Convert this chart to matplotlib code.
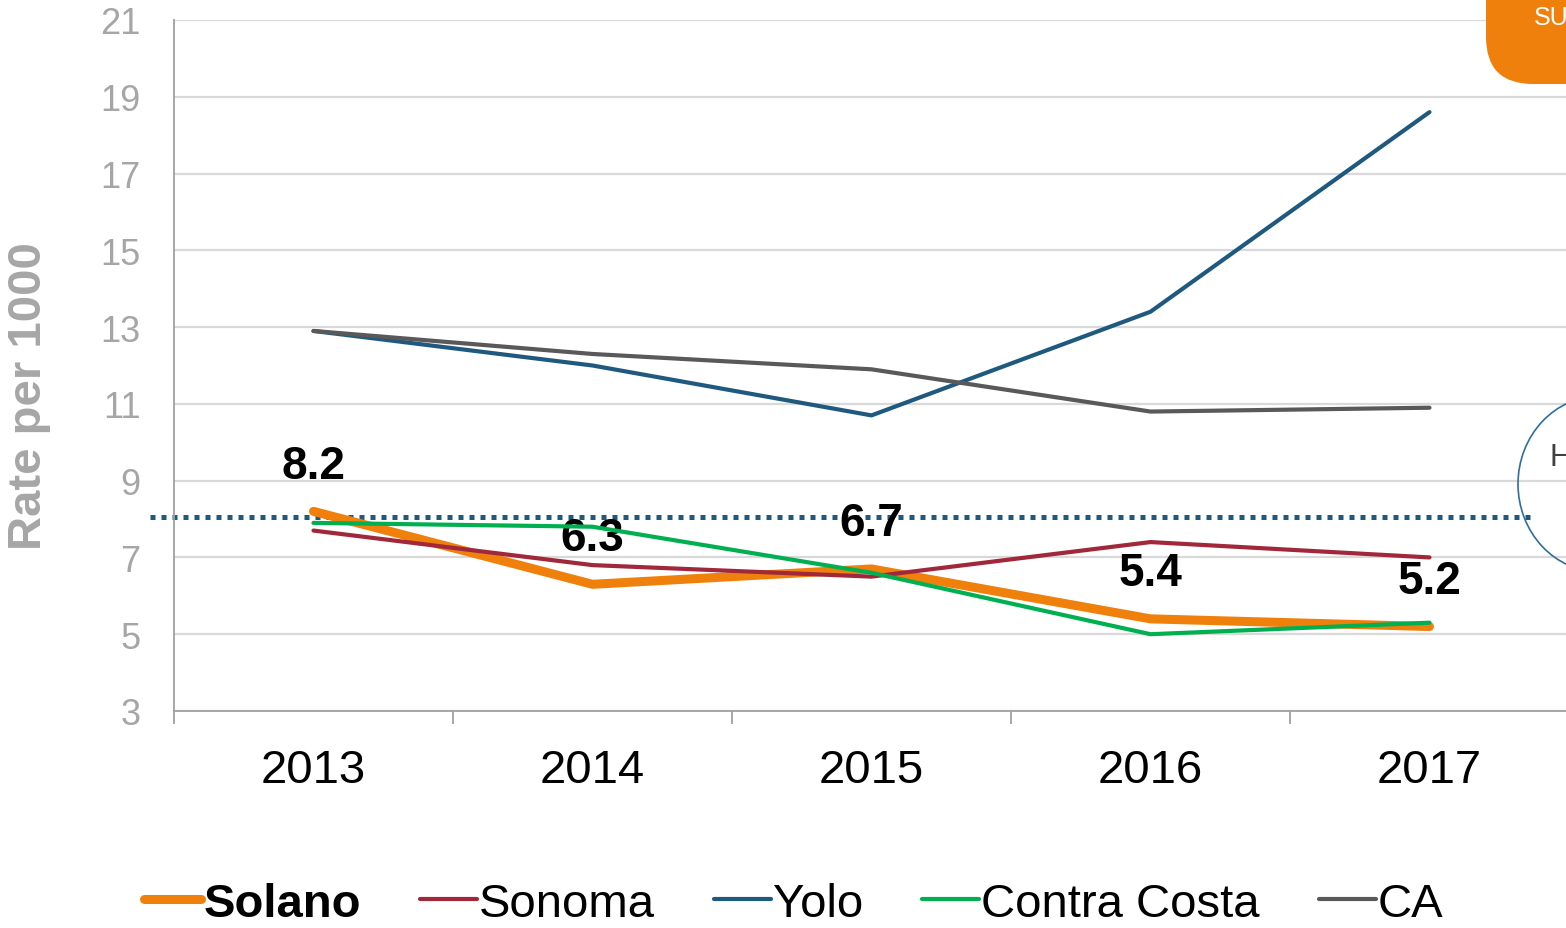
import matplotlib
matplotlib.use('Agg')
import matplotlib.pyplot as plt
from matplotlib.patches import FancyBboxPatch, Ellipse

plt.rcParams['font.family'] = ['Liberation Sans', 'DejaVu Sans']

# Data
years = ['2013', '2014', '2015', '2016', '2017']
solano = [8.2, 6.3, 6.7, 5.4, 5.2]
sonoma = [7.7, 6.8, 6.5, 7.4, 7.0]
yolo = [12.9, 12.0, 10.7, 13.4, 18.6]
contra_costa = [7.9, 7.8, 6.6, 5.0, 5.3]
ca = [12.9, 12.3, 11.9, 10.8, 10.9]
target = 8.05

series = [
    ('Solano', solano, '#f0800c', 6.5),
    ('Sonoma', sonoma, '#a0283a', 3.0),
    ('Yolo', yolo, '#1f5a7e', 3.0),
    ('Contra Costa', contra_costa, '#00b050', 3.0),
    ('CA', ca, '#595959', 3.0),
]

fig = plt.figure(figsize=(15.66, 9.29), dpi=100)
ax = fig.add_axes([0.1111, 0.2336, 0.8908, 0.7438])

x = list(range(len(years)))

# Target dotted line (drawn first so series sit on top)
ax.plot([-0.586, 4.36], [target, target], color='#1f5a7e', lw=3.6,
        linestyle=(0, (1, 1.2)), clip_on=False, zorder=2)

# Draw the series, Solano underneath the thin lines like the original
for name, vals, col, lw in series:
    z = 3 if name == 'Solano' else 4
    ax.plot(x, vals, color=col, lw=lw, label=name, solid_capstyle='round', zorder=z)

# Solano value labels
for xi, v in zip(x, solano):
    ax.annotate('%.1f' % v, (xi, v), xytext=(0, 33), textcoords='offset points',
                ha='center', va='center', fontsize=33, fontweight='bold', color='black')

ax.set_xlim(-0.5, 4.5)
ax.set_ylim(3, 21)
ax.set_yticks(range(3, 22, 2))
ax.yaxis.grid(True, color='#d9d9d9', lw=1.6)
ax.set_axisbelow(True)
ax.tick_params(axis='y', length=0, labelsize=26, labelcolor='#a6a6a6', pad=24)

ax.set_xticks(x)
ax.set_xticklabels(years)
ax.set_xticks([i - 0.5 for i in range(len(years) + 1)], minor=True)
ax.tick_params(axis='x', which='major', length=0, labelsize=34, pad=27)
ax.tick_params(axis='x', which='minor', length=9, width=1.3, color='#a0a0a0')

for s in ['top', 'right']:
    ax.spines[s].set_visible(False)
for s in ['left', 'bottom']:
    ax.spines[s].set_color('#a0a0a0')
    ax.spines[s].set_linewidth(1.3)

ax.set_ylabel('Rate per 1000', fontsize=34, fontweight='bold', color='#a6a6a6')
ax.yaxis.set_label_coords(-0.104, 0.457)
ax.yaxis.label.set_verticalalignment('center')

leg = fig.legend(loc='center', bbox_to_anchor=(0.507, 0.026), ncol=5, frameon=False,
                 fontsize=34, handlelength=1.2, handletextpad=0.05, columnspacing=1.25,
                 borderpad=0.1)
leg.get_texts()[0].set_fontweight('bold')
for h in leg.get_lines():
    h.set_solid_capstyle('round')

# Decorations cut off at the right edge of the slide
box = FancyBboxPatch((1486 / 1566, 1 - 85 / 929), 0.2, 0.2,
                     boxstyle='round,pad=0,rounding_size=0.03',
                     transform=fig.transFigure, facecolor='#f0800c',
                     edgecolor='none', mutation_aspect=1566 / 929)
fig.patches.append(box)
fig.text(1534 / 1566, 1 - 18 / 929, 'SU', color='white', fontsize=18,
         ha='left', va='center')

ell = Ellipse((1600 / 1566, 1 - 485 / 929), 164 / 1566, 176 / 929,
              transform=fig.transFigure, facecolor='none', edgecolor='#2e6e9e', lw=1.2)
fig.patches.append(ell)
fig.text(1549 / 1566, 1 - 458 / 929, 'H', color='#404040', fontsize=22,
         ha='left', va='center')

fig.savefig('out.png', dpi=100)
